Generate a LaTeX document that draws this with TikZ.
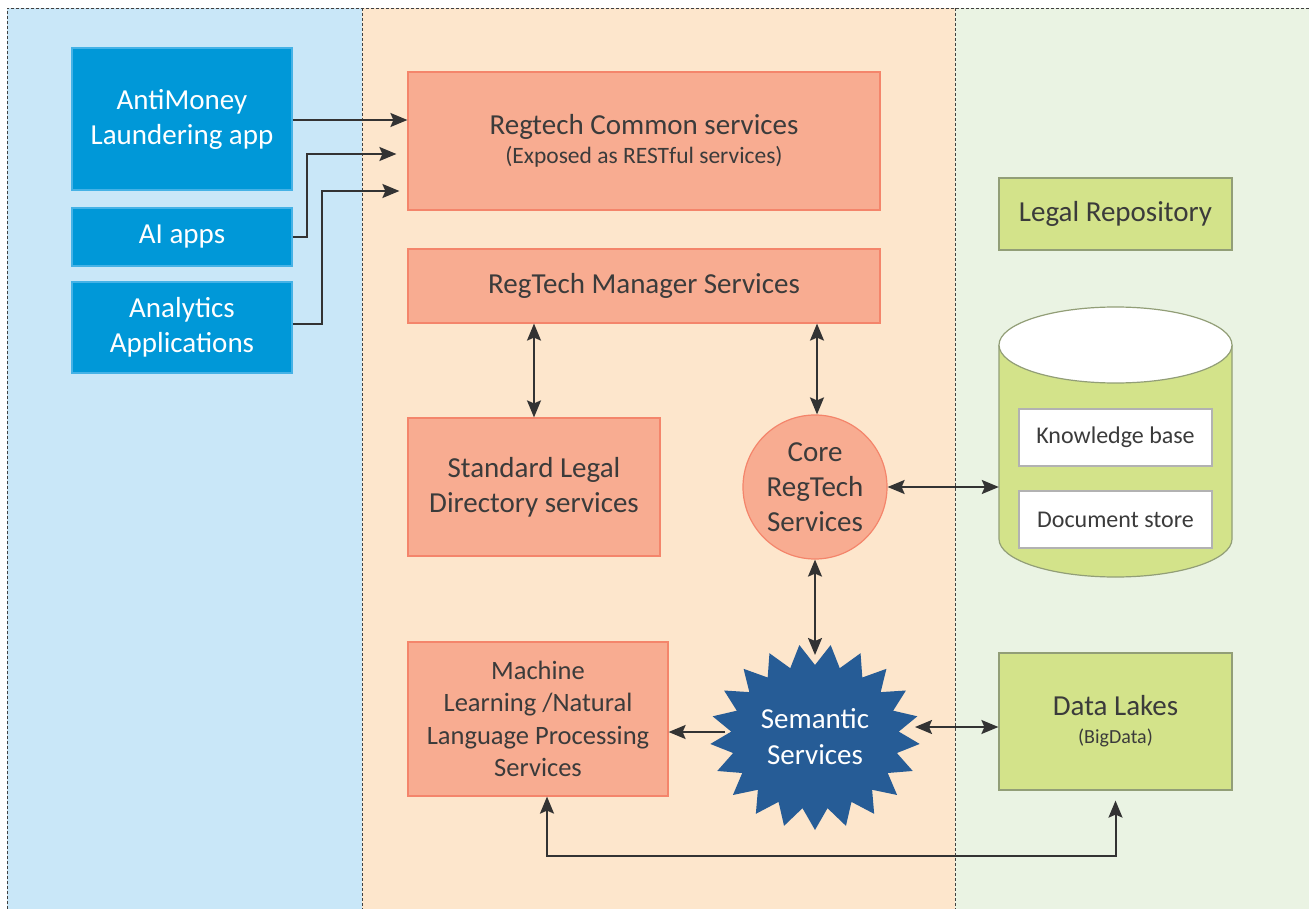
\documentclass[tikz,border=0pt]{standalone}
\usepackage{fontspec}
\setmainfont{Carlito}
\usetikzlibrary{arrows.meta,calc}
\definecolor{pblue}{HTML}{C9E7F8}
\definecolor{ppeach}{HTML}{FDE6CC}
\definecolor{pgreen}{HTML}{EAF3E3}
\definecolor{bfill}{HTML}{0098D8}
\definecolor{bdraw}{HTML}{45B2E6}
\definecolor{sfill}{HTML}{F8AC91}
\definecolor{sdraw}{HTML}{F4856B}
\definecolor{gfill}{HTML}{D3E38A}
\definecolor{gdraw}{HTML}{929E77}
\definecolor{starcol}{HTML}{265C96}
\definecolor{arr}{HTML}{333333}
\definecolor{txt}{HTML}{3B3B3B}
\tikzset{
  bluebox/.style={draw=bdraw,fill=bfill,line width=1.2pt,text=white,align=center,inner sep=0pt,font=\fontsize{29}{35}\selectfont},
  salbox/.style={draw=sdraw,fill=sfill,line width=1.2pt,text=txt,align=center,inner sep=0pt,font=\fontsize{29}{35}\selectfont},
  grnbox/.style={draw=gdraw,fill=gfill,line width=1.2pt,text=txt,align=center,inner sep=0pt,font=\fontsize{29}{34}\selectfont},
  whbox/.style={draw=black!30,fill=white,line width=1.2pt,text=txt,align=center,inner sep=0pt,minimum width=193,minimum height=57,font=\fontsize{24}{28}\selectfont},
  conn/.style={draw=arr,line width=2pt},
  panelline/.style={draw=black!75,line width=0.8pt,dash pattern=on 3pt off 2pt},
}
\begin{document}
\begin{tikzpicture}[x=1pt,y=-1pt,>={Stealth[length=17pt,width=14pt,inset=3pt]}]
\useasboundingbox (0,0) rectangle (1309,909);
% panels
\fill[pblue] (7,8) rectangle (362,909);
\fill[ppeach] (362,8) rectangle (955,909);
\fill[pgreen] (955,8) rectangle (1309,909);
\draw[panelline] (1309,8) -- (7,8) -- (7,909);
\draw[panelline] (362,8) -- (362,909);
\draw[panelline] (955,8) -- (955,909);

% blue boxes
\node[bluebox,minimum width=220,minimum height=142] (amoney) at (182,119) {AntiMoney\\Laundering app};
\node[bluebox,minimum width=220,minimum height=58] (ai) at (182,237) {AI apps};
\node[bluebox,minimum width=220,minimum height=91] (analytics) at (182,327.5) {Analytics\\Applications};

% salmon boxes
\node[salbox,minimum width=472,minimum height=138] (common) at (644,141) {Regtech Common services\\[-6pt]{\fontsize{23.5}{27}\selectfont (Exposed as RESTful services)}};
\node[salbox,minimum width=472,minimum height=74] (manager) at (644,286) {RegTech Manager Services};
\node[salbox,minimum width=252,minimum height=138] (standard) at (534,487) {Standard Legal\\Directory services};
\node[salbox,minimum width=260,minimum height=154,font=\fontsize{26.5}{32.5}\selectfont] (ml) at (538,719) {Machine\\Learning /Natural\\Language Processing\\Services};
\node[salbox,circle,minimum size=144] (core) at (815,487) {Core\\RegTech\\Services};

% green
\node[grnbox,minimum width=233,minimum height=72] (legal) at (1115.5,214) {Legal Repository};
\node[grnbox,minimum width=233,minimum height=137] (lakes) at (1115.5,721.5) {Data Lakes\\[-6pt]{\fontsize{20}{24}\selectfont (BigData)}};

% cylinder
\node[minimum width=233,minimum height=271,inner sep=0pt] (cyl) at (1115.5,441.5) {};
\filldraw[fill=gfill,draw=gdraw,line width=1.2pt] (999,345) -- (999,539) arc[start angle=180,end angle=0,x radius=116.5,y radius=38] -- (1232,345);
\filldraw[fill=white,draw=gdraw,line width=1.2pt] (1115.5,345) ellipse[x radius=116.5,y radius=38];
\node[whbox] (kb) at (1115.5,437.5) {Knowledge base};
\node[whbox] (doc) at (1115.5,519.5) {Document store};

% semantic star
\fill[starcol] plot[samples=42,domain=0:41,variable=\k]
  ({815+ifthenelse(iseven(round(\k)),105,84)*cos(90+\k*360/42)},
   {737+ifthenelse(iseven(round(\k)),93,72)*sin(90+\k*360/42)}) -- cycle;
\node[text=white,align=center,font=\fontsize{29}{36}\selectfont] (sem) at (815,737) {Semantic\\Services};
\coordinate (semN) at (815,655);
\coordinate (semW) at (725,732);
\coordinate (semE) at (915,727);

% connectors
\draw[conn,->] (amoney.east |- 0,120) -- (common.west |- 0,120);
\draw[conn,->,shorten >=11pt] (ai.east) -- ++(14,0) |- ([yshift=-13pt]common.west);
\draw[conn,->,shorten >=8pt] (analytics.east |- 0,324) -- ++(29,0) |- ([yshift=-50pt]common.west);
\draw[conn,<->] (manager.south -| standard.north) -- (standard.north);
\draw[conn,<->] ([xshift=2pt]core.north |- manager.south) -- ([xshift=2pt]core.north);
\draw[conn,<->] (core.east) -- (core.east -| cyl.west);
\draw[conn,<->] (core.south) -- (semN);
\draw[conn,->] (semW) -- (semW -| ml.east);
\draw[conn,<->] (semE) -- (semE -| lakes.west);
\draw[conn,<->,shorten >=10pt] ([xshift=9pt]ml.south) -- ++(0,59) -| (lakes.south);
\end{tikzpicture}
\end{document}
